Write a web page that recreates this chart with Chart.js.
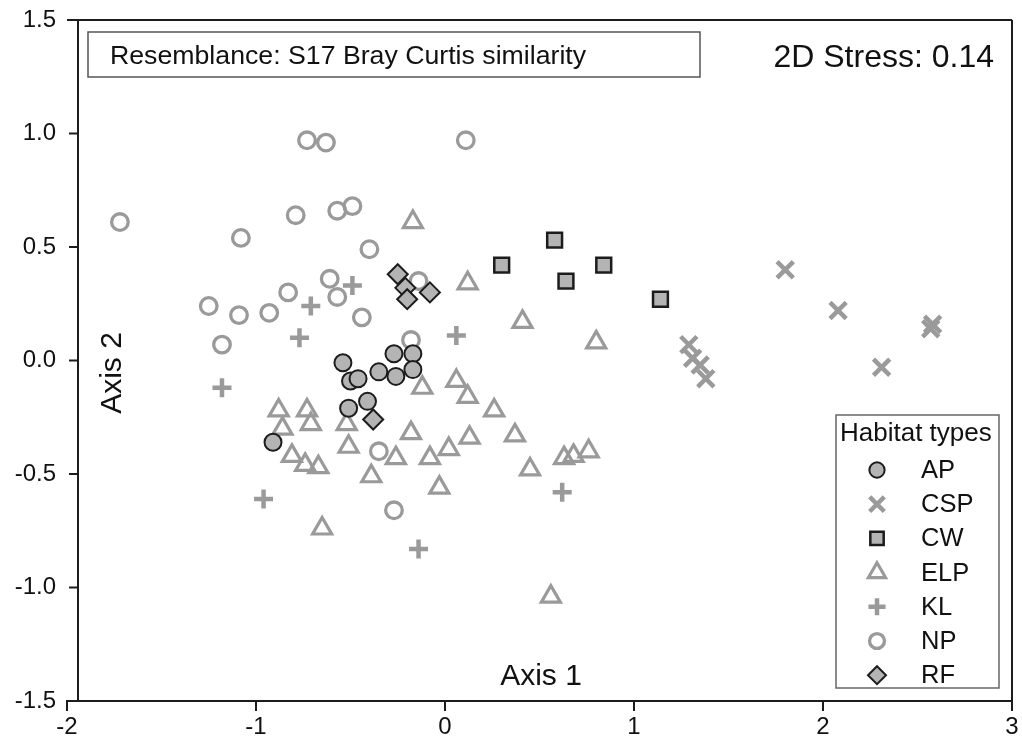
<!DOCTYPE html>
<html>
<head>
<meta charset="utf-8">
<script src="https://cdn.jsdelivr.net/npm/chart.js@4.4.1/dist/chart.umd.min.js"></script>
<style>
  html, body { margin: 0; padding: 0; background: #fff; }
  #nmds { display: block; }
</style>
</head>
<body>
<canvas id="nmds" width="1022" height="751"></canvas>
<script>
'use strict';

// nMDS ordination scores (Axis 1, Axis 2) per habitat type
const habitats = ['AP', 'CSP', 'CW', 'ELP', 'KL', 'NP', 'RF'];

const AP = [[-0.54, -0.01], [-0.50, -0.09], [-0.46, -0.08], [-0.35, -0.05], [-0.27, 0.03],
  [-0.17, 0.03], [-0.26, -0.07], [-0.17, -0.04], [-0.51, -0.21], [-0.41, -0.18], [-0.91, -0.36]];

const CSP = [[1.80, 0.40], [2.08, 0.22], [2.58, 0.16], [2.57, 0.14], [2.31, -0.03],
  [1.29, 0.07], [1.31, 0.01], [1.35, -0.02], [1.38, -0.08]];

const CW = [[0.58, 0.53], [0.30, 0.42], [0.84, 0.42], [0.64, 0.35], [1.14, 0.27]];

const ELP = [[-0.17, 0.61], [0.12, 0.34], [0.41, 0.17], [0.80, 0.08], [0.06, -0.09],
  [0.12, -0.16], [0.26, -0.22], [0.13, -0.34], [0.02, -0.39], [0.37, -0.33],
  [0.45, -0.48], [0.63, -0.43], [0.68, -0.42], [0.76, -0.40], [-0.12, -0.12],
  [-0.88, -0.22], [-0.73, -0.22], [-0.86, -0.30], [-0.71, -0.28], [-0.52, -0.28],
  [-0.81, -0.42], [-0.74, -0.46], [-0.67, -0.47], [-0.51, -0.38], [-0.18, -0.32],
  [-0.26, -0.43], [-0.08, -0.43], [-0.39, -0.51], [-0.03, -0.56], [-0.65, -0.74],
  [0.56, -1.04]];

const KL = [[-1.18, -0.12], [-0.96, -0.61], [-0.77, 0.10], [-0.71, 0.24], [-0.49, 0.33],
  [0.06, 0.11], [-0.14, -0.83], [0.62, -0.58]];

const NP = [[-1.72, 0.61], [-0.73, 0.97], [-0.63, 0.96], [0.11, 0.97], [-0.79, 0.64],
  [-1.08, 0.54], [-0.57, 0.66], [-0.49, 0.68], [-0.40, 0.49], [-1.25, 0.24],
  [-1.09, 0.20], [-0.93, 0.21], [-0.83, 0.30], [-1.18, 0.07], [-0.61, 0.36],
  [-0.57, 0.28], [-0.44, 0.19], [-0.14, 0.35], [-0.18, 0.09], [-0.35, -0.40],
  [-0.27, -0.66]];

const RF = [[-0.25, 0.38], [-0.21, 0.32], [-0.20, 0.27], [-0.08, 0.30], [-0.38, -0.26]];

const xTicks = [-2, -1, 0, 1, 2, 3];
const yTicks = [-1.5, -1.0, -0.5, 0.0, 0.5, 1.0, 1.5];

const FONT = '"Liberation Sans", Arial, sans-serif';
const GREY = '#9a9a9a';
const FILL = '#b4b4b4';
const INK = '#1c1c1c';

const toPts = arr => arr.map(p => ({ x: p[0], y: p[1] }));

const styles = {
  AP:  { pointStyle: 'circle',   pointRadius: 8.5, pointBorderWidth: 2,   pointBackgroundColor: FILL, pointBorderColor: INK, order: 2 },
  CSP: { pointStyle: 'crossRot', pointRadius: 11.5, pointBorderWidth: 4.5, pointBackgroundColor: GREY, pointBorderColor: GREY, order: 5 },
  CW:  { pointStyle: 'rect',     pointRadius: 10.5, pointBorderWidth: 2.5, pointBackgroundColor: FILL, pointBorderColor: INK, order: 1 },
  ELP: { pointStyle: 'triangle', pointRadius: 11, pointBorderWidth: 3.2, pointBackgroundColor: 'rgba(0,0,0,0)', pointBorderColor: GREY, order: 6 },
  KL:  { pointStyle: 'cross',    pointRadius: 9.5, pointBorderWidth: 4.5, pointBackgroundColor: GREY, pointBorderColor: GREY, order: 5 },
  NP:  { pointStyle: 'circle',   pointRadius: 8.3, pointBorderWidth: 3.3, pointBackgroundColor: 'rgba(0,0,0,0)', pointBorderColor: GREY, order: 7 },
  RF:  { pointStyle: 'rectRot',  pointRadius: 10,  pointBorderWidth: 2,   pointBackgroundColor: FILL, pointBorderColor: INK, order: 0 }
};

const series = { AP, CSP, CW, ELP, KL, NP, RF };

const datasets = habitats.map(h => Object.assign({
  label: h,
  data: toPts(series[h]),
  showLine: false,
  pointHoverRadius: styles[h].pointRadius
}, styles[h]));

// frame, offset y axis, annotation boxes and legend
const decorations = {
  id: 'decorations',
  afterDraw(chart) {
    const ctx = chart.ctx;
    const area = chart.chartArea;
    const ys = chart.scales.y;
    const yAxisX = area.left + 11;

    ctx.save();
    ctx.strokeStyle = INK;
    ctx.lineWidth = 2;
    ctx.beginPath();
    ctx.moveTo(area.left, area.top);
    ctx.lineTo(area.right, area.top);
    ctx.moveTo(yAxisX, area.top);
    ctx.lineTo(yAxisX, area.bottom);
    ctx.moveTo(area.right, area.top);
    ctx.lineTo(area.right, area.bottom);
    yTicks.forEach(v => {
      const py = ys.getPixelForValue(v);
      ctx.moveTo(area.left + 2, py);
      ctx.lineTo(yAxisX, py);
    });
    ctx.stroke();

    // resemblance box
    ctx.strokeStyle = '#555';
    ctx.lineWidth = 1.5;
    ctx.strokeRect(88, 32, 612, 45);
    ctx.fillStyle = '#111';
    ctx.font = '26.7px ' + FONT;
    ctx.textAlign = 'left';
    ctx.textBaseline = 'alphabetic';
    ctx.fillText('Resemblance: S17 Bray Curtis similarity', 110, 64);

    ctx.font = '32px ' + FONT;
    ctx.textAlign = 'right';
    ctx.fillText('2D Stress: 0.14', 994, 67);

    // axis titles inside the frame
    ctx.font = '30px ' + FONT;
    ctx.textAlign = 'center';
    ctx.textBaseline = 'middle';
    ctx.fillText('Axis 1', 541, 677);
    ctx.save();
    ctx.translate(113, 373);
    ctx.rotate(-Math.PI / 2);
    ctx.fillText('Axis 2', 0, 0);
    ctx.restore();

    // legend
    const lx = 836, ly = 415, lw = 163, lh = 273;
    ctx.fillStyle = '#fff';
    ctx.fillRect(lx, ly, lw, lh);
    ctx.strokeStyle = '#666';
    ctx.lineWidth = 1.5;
    ctx.strokeRect(lx, ly, lw, lh);
    ctx.fillStyle = '#111';
    ctx.font = '26px ' + FONT;
    ctx.textAlign = 'left';
    ctx.textBaseline = 'middle';
    ctx.fillText('Habitat types', 840, 434);

    chart.data.datasets.forEach((ds, i) => {
      const cy = 470 + i * 34.2;
      ctx.fillStyle = ds.pointBackgroundColor;
      ctx.strokeStyle = ds.pointBorderColor;
      ctx.lineWidth = ds.pointBorderWidth;
      Chart.helpers.drawPoint(ctx, {
        pointStyle: ds.pointStyle,
        radius: ds.pointRadius * 0.9,
        borderWidth: ds.pointBorderWidth,
        rotation: 0
      }, 877, cy);
      ctx.fillStyle = '#111';
      ctx.font = '25.5px ' + FONT;
      ctx.fillText(ds.label, 921, cy + 1);
    });
    ctx.restore();
  }
};

new Chart(document.getElementById('nmds'), {
  type: 'scatter',
  data: { datasets },
  options: {
    responsive: false,
    devicePixelRatio: 1,
    animation: false,
    events: [],
    layout: { autoPadding: false, padding: { top: 20, right: 10, left: 0, bottom: 0 } },
    plugins: {
      legend: { display: false },
      tooltip: { enabled: false }
    },
    scales: {
      x: {
        type: 'linear',
        min: -2,
        max: 3,
        afterBuildTicks: scale => { scale.ticks = xTicks.map(v => ({ value: v })); },
        afterFit: scale => {
          scale.height = 50;
          scale.paddingLeft = 0;
          scale.paddingRight = 0;
        },
        grid: { drawOnChartArea: false, drawTicks: true, tickLength: 10, color: INK, lineWidth: 2 },
        border: { display: true, color: INK, width: 2 },
        ticks: { color: '#111', font: { family: FONT, size: 24 }, padding: 2, callback: v => String(v) }
      },
      y: {
        type: 'linear',
        min: -1.5,
        max: 1.5,
        afterBuildTicks: scale => { scale.ticks = yTicks.map(v => ({ value: v })); },
        afterFit: scale => {
          scale.width = 67;
          scale.paddingTop = 0;
          scale.paddingBottom = 0;
        },
        grid: { display: false, drawTicks: false },
        border: { display: false },
        ticks: { color: '#111', font: { family: FONT, size: 24 }, padding: 11, callback: v => Number(v).toFixed(1) }
      }
    }
  },
  plugins: [decorations]
});
</script>
</body>
</html>
